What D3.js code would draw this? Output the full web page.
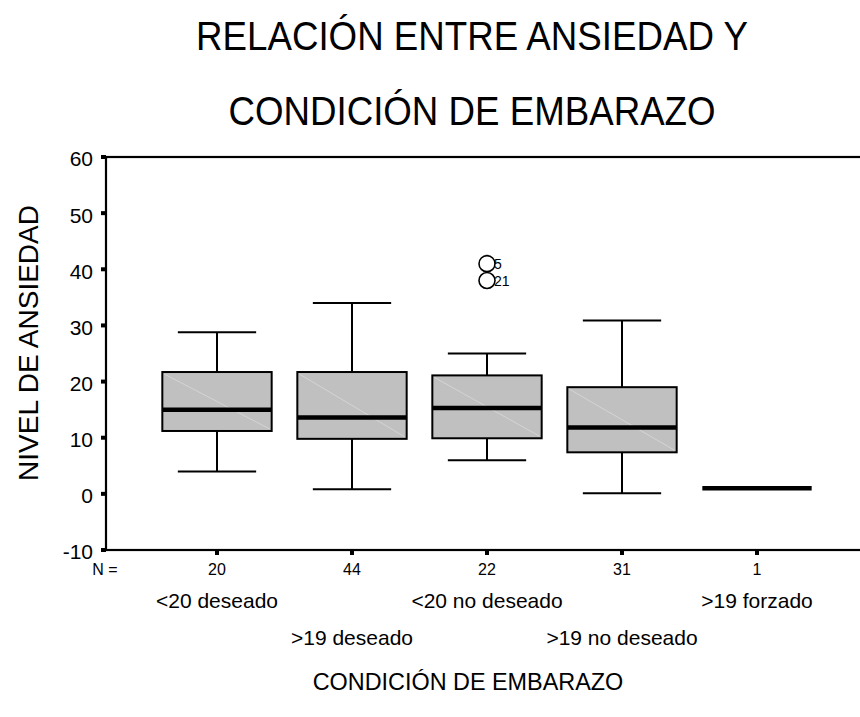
<!DOCTYPE html>
<html><head><meta charset="utf-8">
<script src="https://cdn.jsdelivr.net/npm/d3@7/dist/d3.min.js"></script>
<style>body{margin:0;background:#fff}svg{display:block}text{font-family:"Liberation Sans",Arial,sans-serif;fill:#000}</style>
</head><body>
<script>
const categories = ["<20 deseado", ">19 deseado", "<20 no deseado", ">19 no deseado", ">19 forzado"];
const nCounts = [20, 44, 22, 31, 1];
const whiskerLow = [4, 0.8, 6, 0.1, 1];
const q1 = [11.2, 9.8, 9.9, 7.4, 1];
const median = [15, 13.6, 15.3, 11.8, 1];
const q3 = [21.7, 21.7, 21.1, 19, 1];
const whiskerHigh = [28.8, 34, 25, 30.9, 1];
const outliers = [{cat: "<20 no deseado", value: 41, label: "5"}, {cat: "<20 no deseado", value: 38, label: "21"}];
const yTicks = [-10, 0, 10, 20, 30, 40, 50, 60];

(function () {
const W = 860, H = 717;
const svg = d3.select("body").append("svg").attr("width", W).attr("height", H);
const pLeft = 106, pTop = 157, pBottom = 550, pRight = 868;

const y = d3.scaleLinear().domain([-10, 60]).range([pBottom, pTop]);
const x = d3.scalePoint().domain(categories).range([217, 757]);
const step = x.step();
const boxW = step * 0.81, capW = step * 0.58;

// frame
svg.append("rect").attr("x", pLeft).attr("y", pTop).attr("width", pRight - pLeft).attr("height", pBottom - pTop)
  .attr("fill", "none").attr("stroke", "#000").attr("stroke-width", 2.2);

// y axis ticks
yTicks.forEach(t => {
  svg.append("rect").attr("x", pLeft - 5).attr("y", y(t) - 2).attr("width", 5).attr("height", 4).attr("fill", "#000");
  svg.append("text").attr("x", 93).attr("y", y(t)).attr("dy", "0.45em").attr("text-anchor", "end")
    .attr("font-size", 21).text(t);
});
// x ticks
categories.forEach(c => {
  svg.append("rect").attr("x", x(c) - 2).attr("y", pBottom).attr("width", 4).attr("height", 5).attr("fill", "#000");
});

const data = categories.map((c, i) => ({c, n: nCounts[i], lo: whiskerLow[i], q1: q1[i], med: median[i], q3: q3[i], hi: whiskerHigh[i]}));
const g = svg.append("g");
data.forEach(d => {
  const cx = x(d.c);
  if (d.hi > d.lo) {
    g.append("line").attr("x1", cx).attr("x2", cx).attr("y1", y(d.hi)).attr("y2", y(d.q3)).attr("stroke", "#000").attr("stroke-width", 2);
    g.append("line").attr("x1", cx).attr("x2", cx).attr("y1", y(d.q1)).attr("y2", y(d.lo)).attr("stroke", "#000").attr("stroke-width", 2);
    g.append("line").attr("x1", cx - capW / 2).attr("x2", cx + capW / 2).attr("y1", y(d.hi)).attr("y2", y(d.hi)).attr("stroke", "#000").attr("stroke-width", 2);
    g.append("line").attr("x1", cx - capW / 2).attr("x2", cx + capW / 2).attr("y1", y(d.lo)).attr("y2", y(d.lo)).attr("stroke", "#000").attr("stroke-width", 2);
  }
  if (d.q3 > d.q1) {
    g.append("rect").attr("x", cx - boxW / 2).attr("y", y(d.q3)).attr("width", boxW).attr("height", y(d.q1) - y(d.q3))
      .attr("fill", "#c0c0c0").attr("stroke", "#000").attr("stroke-width", 2);
    g.append("line").attr("x1", cx - boxW / 2 + 2).attr("y1", y(d.q3) + 2).attr("x2", cx + boxW / 2 - 2).attr("y2", y(d.q1) - 2)
      .attr("stroke", "#dcdcdc").attr("stroke-width", 0.7);
  }
  g.append("line").attr("x1", cx - boxW / 2).attr("x2", cx + boxW / 2).attr("y1", y(d.med)).attr("y2", y(d.med))
    .attr("stroke", "#000").attr("stroke-width", 4.5);
  svg.append("text").attr("x", cx).attr("y", 575).attr("text-anchor", "middle").attr("font-size", 16).text(d.n);
});

outliers.forEach(o => {
  const cx = x(o.cat);
  g.append("circle").attr("cx", cx).attr("cy", y(o.value)).attr("r", 8).attr("fill", "none").attr("stroke", "#000").attr("stroke-width", 1.6);
  svg.append("text").attr("x", cx + 7).attr("y", y(o.value)).attr("dy", "0.38em").attr("font-size", 14).text(o.label);
});

svg.append("text").attr("x", 105).attr("y", 575).attr("text-anchor", "middle").attr("font-size", 16).text("N =");

categories.forEach((c, i) => {
  svg.append("text").attr("x", x(c)).attr("y", i % 2 === 0 ? 608 : 645).attr("text-anchor", "middle").attr("font-size", 21).text(c);
});

svg.append("text").attr("transform", "translate(472,50) scale(1,1.1)").attr("text-anchor", "middle").attr("font-size", 36.7).text("RELACIÓN ENTRE ANSIEDAD Y");
svg.append("text").attr("transform", "translate(472,125) scale(1,1.1)").attr("text-anchor", "middle").attr("font-size", 36.7).text("CONDICIÓN DE EMBARAZO");
svg.append("text").attr("transform", "translate(38,343) rotate(-90)").attr("text-anchor", "middle").attr("font-size", 28).text("NIVEL DE ANSIEDAD");
svg.append("text").attr("x", 468).attr("y", 690).attr("text-anchor", "middle").attr("font-size", 23.4).text("CONDICIÓN DE EMBARAZO");
})();
</script>
</body></html>
